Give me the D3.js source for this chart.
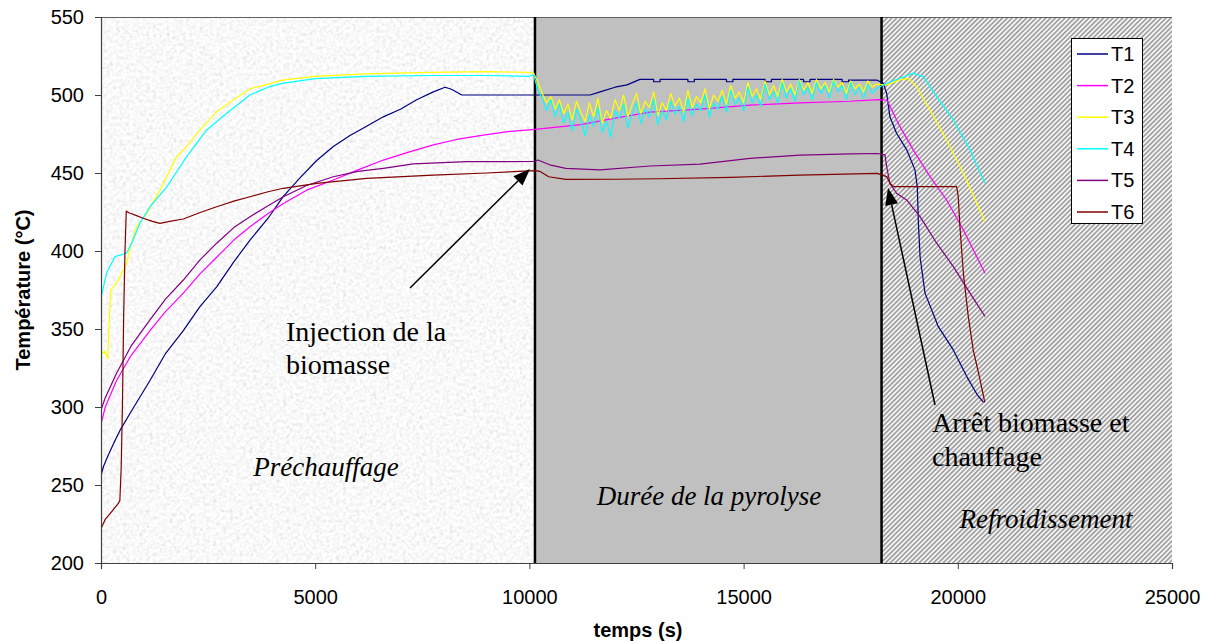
<!DOCTYPE html>
<html>
<head>
<meta charset="utf-8">
<script src="https://cdn.jsdelivr.net/npm/d3@7"></script>
<style>
  html, body { margin: 0; padding: 0; background: #fff; }
  svg { display: block; }
</style>
</head>
<body>
<svg id="chart" width="1213" height="641"></svg>
<script>
// ---------------- DATA ----------------
const xTicks = [0, 5000, 10000, 15000, 20000, 25000];
const yTicks = [200, 250, 300, 350, 400, 450, 500, 550];
const seriesNames = ["T1", "T2", "T3", "T4", "T5", "T6"];
const seriesColors = ["#000080", "#ff00ff", "#ffff00", "#00ffff", "#800080", "#800000"];

// phase boundaries (s)
const phaseStarts = [0, 10130, 18220];
const phaseEnds = [10130, 18220, 25000];
const phaseNames = ["Préchauffage", "Durée de la pyrolyse", "Refroidissement"];

// [time (s), temperature (°C)]
const T1 = [[0,256],[60,262],[150,268],[300,277],[443,285],[700,297],[1143,317],[1500,334],[1922,349],[2300,364],[2700,377],[3100,393],[3478,407],[3900,421],[4256,435],[4650,447],[5034,458],[5423,467],[5812,474],[6200,480],[6590,486],[7000,491],[7368,497],[7757,502],[8030,505],[8150,504],[8225,503],[8420,500],[9000,500],[9500,500],[10130,500],[10800,500],[11415,500],[11650,502],[12000,505],[12280,506.5],[12580,510],[12900,510],[12900,508.5],[13050,508.5],[13050,510],[13700,510],[13700,508.5],[13850,508.5],[13850,510],[14600,510],[14600,508.5],[14750,508.5],[14750,510],[15500,510],[15500,508.5],[15650,508.5],[15650,510],[16400,510],[16400,508.5],[16550,508.5],[16550,510],[17300,510],[17300,508.5],[17450,508.5],[17450,509.5],[18120,509.5],[18260,507.5],[18340,501],[18415,486],[18570,475.5],[18805,465],[19000,452],[19055,441],[19080,418],[19120,396],[19235,373],[19545,351.5],[19895,336.6],[20210,319.5],[20450,308],[20600,303]];

const T2 = [[0,289],[100,300],[363,317],[700,333],[1143,349],[1500,361],[1922,373],[2300,385],[2700,396],[3100,407],[3478,415.6],[3900,424],[4256,430.5],[4800,439],[5423,445.5],[6000,452],[6590,458.3],[7200,463.5],[7757,468],[8300,471.5],[8925,474.3],[9500,476.5],[10130,478],[11200,481],[11970,485],[12815,489],[13980,491],[15150,493.5],[16320,495],[17480,496],[18150,497],[18340,496.8],[18420,492.6],[18650,479.7],[18960,464.8],[19350,447.7],[19740,432.7],[20130,413.5],[20635,385.7]];

const T3pre = [[0,333],[80,336],[160,331],[200,360],[230,375],[400,381],[600,392],[700,404],[833,415.6],[1066,424],[1377,439],[1767,460.5],[2000,467],[2311,477.6],[2700,489.3],[3085,496.8],[3478,504],[3900,507],[4228,509.5],[5000,512],[6166,513.5],[7715,514.5],[9000,515],[10000,514.5]];
const T4pre = [[0,370],[133,386],[327,396.4],[600,398.7],[716,405],[910,418],[1144,428.4],[1533,441],[2000,460.5],[2467,477.6],[2934,488.3],[3478,500],[3900,505],[4228,507.5],[5000,510.5],[6166,512],[7715,512.5],[9000,512.5],[10000,512]];

const pyroTimes = [10100,10200,10300,10400,10500,10600,10700,10800,10900,11000,
  11100,11200,11300,11400,11500,11600,11700,11800,11900,12000,
  12100,12200,12300,12400,12500,12600,12700,12800,12900,13000,
  13100,13200,13300,13400,13500,13600,13700,13800,13900,14000,
  14100,14200,14300,14400,14500,14600,14700,14800,14900,15000,
  15100,15200,15300,15400,15500,15600,15700,15800,15900,16000,
  16100,16200,16300,16400,16500,16600,16700,16800,16900,17000,
  17100,17200,17300,17400,17500,17600,17700,17800,17900,18000,
  18100];
const T3pyro = [514,508,501,495,499,491,497,488,494,484,
  496,489,483,495,486,498,482,490,485,497,
  490,500,486,494,501,488,496,492,502,487,
  495,490,501,493,498,489,503,492,499,495,
  504,491,500,496,503,494,506,498,502,495,
  508,499,504,497,509,500,506,499,510,502,
  507,500,510,503,508,501,510,504,508,502,
  510,505,508,501,509,504,507,502,509,505,
  507];
const T4pyro = [513,503,498,490,497,486,494,482,489,477,
  491,484,474,487,480,492,476,483,473,490,
  485,494,479,488,495,482,491,486,497,481,
  490,484,496,488,493,483,498,487,494,490,
  500,486,495,491,499,489,503,494,498,490,
  505,495,500,493,507,497,502,495,508,498,
  504,496,509,500,505,497,508,501,506,498,
  509,502,506,497,508,500,505,498,507,501,
  504];

const T3cool = [[18340,506.5],[18650,509.7],[18845,510.7],[19040,505.4],[19350,490.4],[19740,471.2],[20130,449.8],[20635,418.8]];
const T4cool = [[18340,507.5],[18650,510.7],[18960,514],[19195,511.8],[19507,499],[19896,484],[20285,464.8],[20635,443.4]];

const T5 = [[0,298],[100,306],[363,321.6],[700,339],[1143,355.8],[1500,369],[1922,381.4],[2300,394],[2700,405],[3100,415],[3478,422],[3900,429],[4256,434.8],[4800,442],[5423,447.6],[6000,451],[6590,453],[7290,455.8],[8536,457.3],[9500,457.3],[10130,457.5],[10200,458.3],[10500,455],[10850,453],[11650,452],[12815,454.5],[13980,455.7],[15150,459.4],[16320,461.5],[17500,462.2],[18120,462.5],[18300,461.6],[18340,454],[18415,443.4],[18570,437],[18805,432.7],[19120,422],[19507,405],[19896,390],[20285,373],[20635,358]];

const T6 = [[0,222],[100,228],[250,233],[400,238],[440,240],[470,260],[500,300],[530,360],[560,400],[590,425.6],[650,424.5],[800,423],[982,421],[1200,419],[1377,417.7],[1600,419],[1922,420.5],[2300,424.5],[2700,428.4],[3100,432],[3478,434.8],[3900,438],[4256,440.2],[5034,443.4],[6200,446.6],[7757,448.7],[9000,450],[10130,451.5],[10250,451],[10450,447.6],[10850,445.9],[12000,446],[13000,446.3],[14700,447.2],[16300,448.7],[18120,449.8],[18340,447.7],[18415,443.4],[18500,441.3],[19973,441.3],[20010,434.9],[20050,415.6],[20130,385.7],[20245,357.9],[20360,336.6],[20520,317.4],[20630,303]];

// ---------------- BUILD ----------------
const T3 = T3pre.concat(pyroTimes.map((t, i) => [t, T3pyro[i]]), T3cool);
const T4 = T4pre.concat(pyroTimes.map((t, i) => [t, T4pyro[i]]), T4cool);
const allSeries = [T1, T2, T3, T4, T5, T6];

const svg = d3.select("#chart");
const pLeft = 101, pRight = 1172, pTop = 17, pBottom = 563;
const x = d3.scaleLinear().domain([0, 25000]).range([pLeft, pRight]);
const y = d3.scaleLinear().domain([200, 550]).range([pBottom, pTop]);

const defs = svg.append("defs");
// granite texture
const f = defs.append("filter").attr("id", "granite")
  .attr("x", 0).attr("y", 0).attr("width", "100%").attr("height", "100%")
  .attr("filterUnits", "objectBoundingBox");
f.append("feTurbulence").attr("type", "fractalNoise").attr("baseFrequency", "0.3")
  .attr("numOctaves", 3).attr("seed", 7).attr("result", "n");
f.append("feColorMatrix").attr("type", "matrix")
  .attr("values", "0.33 0.33 0.33 0 0  0.33 0.33 0.33 0 0  0.33 0.33 0.33 0 0  0 0 0 0 1").attr("result", "g");
const ct = f.append("feComponentTransfer");
["feFuncR", "feFuncG", "feFuncB"].forEach(fn =>
  ct.append(fn).attr("type", "linear").attr("slope", 0.7).attr("intercept", 0.6));
// hatch
const hp = defs.append("pattern").attr("id", "hatch").attr("patternUnits", "userSpaceOnUse")
  .attr("width", 3.4).attr("height", 3.4).attr("patternTransform", "rotate(45)");
hp.append("rect").attr("width", 3.4).attr("height", 3.4).attr("fill", "#f4f4f4");
hp.append("line").attr("x1", 0.8).attr("y1", 0).attr("x2", 0.8).attr("y2", 3.4)
  .attr("stroke", "#888").attr("stroke-width", 1.3);

defs.append("clipPath").attr("id", "clip").append("rect")
  .attr("x", pLeft).attr("y", pTop).attr("width", pRight - pLeft).attr("height", pBottom - pTop);

// phase backgrounds
svg.append("rect").attr("x", x(phaseStarts[0])).attr("y", pTop)
  .attr("width", x(phaseEnds[0]) - x(phaseStarts[0])).attr("height", pBottom - pTop)
  .attr("fill", "#e8e8e8").attr("filter", "url(#granite)");
svg.append("rect").attr("x", x(phaseStarts[1])).attr("y", pTop)
  .attr("width", x(phaseEnds[1]) - x(phaseStarts[1])).attr("height", pBottom - pTop)
  .attr("fill", "#c0c0c0");
svg.append("rect").attr("x", x(phaseStarts[2])).attr("y", pTop)
  .attr("width", x(phaseEnds[2]) - x(phaseStarts[2])).attr("height", pBottom - pTop)
  .attr("fill", "url(#hatch)");

// top border
svg.append("line").attr("x1", pLeft).attr("x2", pRight).attr("y1", pTop + 0.5).attr("y2", pTop + 0.5)
  .attr("stroke", "#606060").attr("stroke-width", 1);

// phase separators
svg.selectAll(".sep").data([phaseStarts[1], phaseStarts[2]]).enter().append("line")
  .attr("x1", d => x(d)).attr("x2", d => x(d)).attr("y1", pTop).attr("y2", pBottom)
  .attr("stroke", "#000").attr("stroke-width", 2.5);

// phase labels
const serif = "'Liberation Serif', 'Times New Roman', serif";
const phaseLabelPos = [[326, 476], [709, 505], [1046, 528]];
svg.selectAll(".phase").data(phaseNames).enter().append("text")
  .attr("x", (d, i) => phaseLabelPos[i][0]).attr("y", (d, i) => phaseLabelPos[i][1])
  .attr("text-anchor", "middle").attr("font-family", serif).attr("font-style", "italic")
  .attr("font-size", 27).attr("fill", "#000").text(d => d);

// series
const line = d3.line().x(d => x(d[0])).y(d => y(d[1]));
const g = svg.append("g").attr("clip-path", "url(#clip)");
allSeries.forEach((s, i) => {
  g.append("path").datum(s).attr("d", line).attr("fill", "none")
    .attr("stroke", seriesColors[i]).attr("stroke-width", 1.2).attr("stroke-linejoin", "round");
});

// axes
const sans = "'Liberation Sans', Arial, sans-serif";
const yAxis = svg.append("g").attr("transform", `translate(${pLeft},0)`)
  .call(d3.axisLeft(y).tickValues(yTicks).tickSize(6).tickPadding(11).tickFormat(d3.format("d")));
const xAxis = svg.append("g").attr("transform", `translate(0,${pBottom})`)
  .call(d3.axisBottom(x).tickValues(xTicks).tickSize(6).tickPadding(21).tickFormat(d3.format("d")));
[yAxis, xAxis].forEach(a => {
  a.select(".domain").attr("stroke", "#404040").attr("stroke-width", 1.2);
  a.selectAll(".tick line").attr("stroke", "#404040");
  a.selectAll(".tick text").attr("font-family", sans).attr("font-size", 20).attr("fill", "#000");
});

// axis titles
svg.append("text").attr("transform", "translate(30,290) rotate(-90)")
  .attr("text-anchor", "middle").attr("font-family", sans).attr("font-weight", "bold")
  .attr("font-size", 20).text("Température (°C)");
svg.append("text").attr("x", 638).attr("y", 637)
  .attr("text-anchor", "middle").attr("font-family", sans).attr("font-weight", "bold")
  .attr("font-size", 20).text("temps (s)");

// annotations
function arrow(x1, y1, x2, y2) {
  const ang = Math.atan2(y2 - y1, x2 - x1);
  const L = 17, W = 6.5;
  const bx = x2 - L * Math.cos(ang), by = y2 - L * Math.sin(ang);
  svg.append("line").attr("x1", x1).attr("y1", y1).attr("x2", bx).attr("y2", by)
    .attr("stroke", "#000").attr("stroke-width", 1.5);
  const p = [[x2, y2],
    [bx + W * Math.sin(ang), by - W * Math.cos(ang)],
    [bx - W * Math.sin(ang), by + W * Math.cos(ang)]];
  svg.append("polygon").attr("points", p.map(q => q.join(",")).join(" ")).attr("fill", "#000");
}
arrow(x(7213), y(376.3), x(10014), y(452.6));
arrow(x(19468), y(301.3), x(18371), y(440.4));

const annos = [["Injection de la", 286, 341], ["biomasse", 286, 374],
               ["Arrêt biomasse et", 932, 432], ["chauffage", 932, 466]];
svg.selectAll(".anno").data(annos).enter().append("text")
  .attr("x", d => d[1]).attr("y", d => d[2]).attr("font-family", serif)
  .attr("font-size", 28).attr("fill", "#000").text(d => d[0]);

// legend
const lg = svg.append("g");
lg.append("rect").attr("x", 1071.5).attr("y", 38.5).attr("width", 71).attr("height", 185)
  .attr("fill", "#fff").attr("stroke", "#000").attr("stroke-width", 1);
seriesNames.forEach((n, i) => {
  const yy = 54 + i * 31.6;
  lg.append("line").attr("x1", 1077).attr("x2", 1108).attr("y1", yy).attr("y2", yy)
    .attr("stroke", seriesColors[i]).attr("stroke-width", 1.5);
  lg.append("text").attr("x", 1111).attr("y", yy + 7).attr("font-family", sans)
    .attr("font-size", 20).text(n);
});
</script>
</body>
</html>
